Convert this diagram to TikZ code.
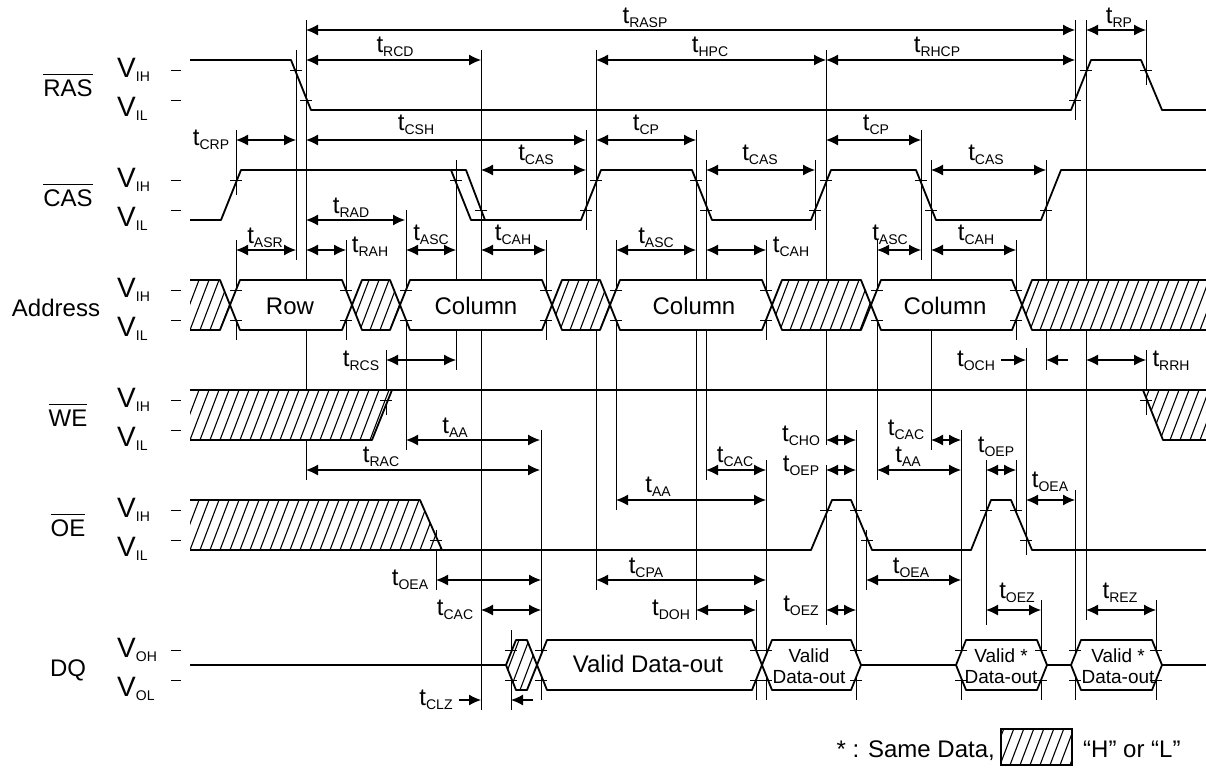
\documentclass[tikz,border=0pt]{standalone}
\usepackage{fontspec}
\setmainfont{Liberation Sans}
\usetikzlibrary{arrows.meta}

\newcommand\tsub[1]{t\raisebox{-4pt}{\fontsize{14}{14}\selectfont #1}}
\newcommand\vsub[1]{{\fontsize{28}{30}\selectfont V}\raisebox{-4pt}{\fontsize{14}{14}\selectfont #1}}
\newcommand\ovl[1]{\setbox0\hbox{#1}\rlap{\rule[21pt]{\wd0}{1.5pt}}\box0}

% hatched region: #1 closed path, #2 top y, #3 bottom y
\newcommand\hatchreg[3]{%
  \begin{scope}
    \fill[white] #1;
    \clip #1;
    \foreach \hx in {150,160,...,1220}
      \draw[hatchline] (\hx,#3) -- ++({0.38*(#3-#2)},{#2-#3});
  \end{scope}}

\tikzset{
  sig/.style={line width=1.8pt, line join=round},
  guide/.style={line width=0.9pt},
  tickm/.style={line width=0.9pt},
  hatchline/.style={line width=1.1pt},
  dim/.style={line width=1.2pt, <->},
  box/.style={sig, fill=white},
  >={Latex[length=12pt,width=11pt]},
  every node/.style={font=\fontsize{24}{28}\selectfont, inner sep=0pt}
}

\begin{document}
\begin{tikzpicture}[x=1pt,y=-1pt]
\useasboundingbox (0,0) rectangle (1206,769);

% row names, levels
\foreach \nm/\lx/\txt/\ya/\hs/\ls in {ras/68/{\ovl{RAS}}/70/IH/IL, cas/68/{\ovl{CAS}}/180/IH/IL,
  addr/56/Address/290/IH/IL, we/68/{\ovl{WE}}/400/IH/IL, oe/68/{\ovl{OE}}/510/IH/IL, dq/68/DQ/650/OH/OL}
{
  \node[anchor=base] (\nm) at (\lx,\ya+26) {\txt};
  \node[anchor=base west] (\nm-h) at (117,\ya+7) {\vsub{\hs}};
  \node[anchor=base west] (\nm-l) at (117,\ya+46) {\vsub{\ls}};
  \draw[tickm] (171,\ya) -- (181,\ya) (171,\ya+30) -- (181,\ya+30);
}

% reference lines
\foreach \x/\ya/\yb in {236/130/195, 236/240/340, 296/50/260, 306/20/480, 346/240/340,
  386/350/415, 406/210/450, 436/530/590, 456/160/370, 481/50/710, 511/630/710,
  541/430/700, 546/240/340, 586/130/230, 596/50/590, 616/240/510, 696/130/620,
  706/160/480, 756/600/700, 766/240/340, 766/460/700, 815/160/230, 826/50/445,
  826/465/625, 856/430/700, 866/530/590, 877/240/480, 921/130/260, 931/160/450,
  961/430/700, 986/460/625, 1016/240/340, 1016/460/515, 1026/348/555, 1041/600/700,
  1046/160/370, 1075/20/120, 1075/490/700, 1086/20/620, 1146/20/85, 1146/350/415,
  1156/600/700}
  \draw[guide] (\x,\ya) -- (\x,\yb);

% RAS, CAS
\draw[sig] (190,60) -- (291,60) -- (311,110) -- (1071,110) -- (1091,60) -- (1141,60)
  -- (1162,110) -- (1206,110);
\draw[sig] (190,220) -- (221,220) -- (241,170) -- (466,170) -- (485,220) -- (581,220)
  -- (601,170) -- (692,170) -- (712,220) -- (811,220) -- (831,170) -- (916,170)
  -- (936,220) -- (1041,220) -- (1061,170) -- (1206,170);
\draw[sig] (451,170) -- (471,220) -- (485,220);

% Address
\hatchreg{(190,280) -- (220,280) -- (230,305) -- (220,330) -- (190,330) -- cycle}{280}{330}
\hatchreg{(352,305) -- (362,280) -- (390,280) -- (400,305) -- (390,330) -- (362,330) -- cycle}{280}{330}
\hatchreg{(552,305) -- (562,280) -- (600,280) -- (610,305) -- (600,330) -- (562,330) -- cycle}{280}{330}
\hatchreg{(772,305) -- (782,280) -- (861,280) -- (871,305) -- (861,330) -- (782,330) -- cycle}{280}{330}
\hatchreg{(1022,305) -- (1032,280) -- (1206,280) -- (1206,330) -- (1032,330) -- cycle}{280}{330}
\draw[sig] (190,280) -- (220,280) -- (230,305) -- (220,330) -- (190,330);
\draw[sig] (1206,280) -- (1032,280) -- (1022,305) -- (1032,330) -- (1206,330);
\foreach \xa/\xb in {352/400, 552/610, 772/871}
  \draw[sig] (\xa,305) -- (\xa+10,280) -- (\xb-10,280) -- (\xb,305) -- (\xb-10,330) -- (\xa+10,330) -- cycle;
\draw[box] (230,305) -- (240,280) -- (342,280) -- (352,305) -- (342,330) -- (240,330) -- cycle;
\draw[box] (400,305) -- (410,280) -- (542,280) -- (552,305) -- (542,330) -- (410,330) -- cycle;
\draw[box] (610,305) -- (620,280) -- (762,280) -- (772,305) -- (762,330) -- (620,330) -- cycle;
\draw[box] (871,305) -- (881,280) -- (1012,280) -- (1022,305) -- (1012,330) -- (881,330) -- cycle;
\node[anchor=base] (row) at (290,314) {Row};
\node[anchor=base] (col1) at (476,314) {Column};
\node[anchor=base] (col2) at (694,314) {Column};
\node[anchor=base] (col3) at (945,314) {Column};

% WE
\hatchreg{(190,390) -- (392,390) -- (372,440) -- (190,440) -- cycle}{390}{440}
\hatchreg{(1143,390) -- (1206,390) -- (1206,440) -- (1163,440) -- cycle}{390}{440}
\draw[sig] (190,390) -- (1206,390);
\draw[sig] (190,440) -- (372,440) -- (392,390);
\draw[sig] (1143,390) -- (1163,440) -- (1206,440);

% OE
\hatchreg{(190,500) -- (420,500) -- (442,550) -- (190,550) -- cycle}{500}{550}
\draw[sig] (190,500) -- (420,500) -- (442,550);
\draw[sig] (190,550) -- (811,550) -- (832,500) -- (851,500) -- (872,550) -- (971,550)
  -- (991,500) -- (1011,500) -- (1032,550) -- (1206,550);

% DQ
\draw[sig] (190,665) -- (506,665) (861,665) -- (956,665) (1047,665) -- (1071,665) (1162,665) -- (1206,665);
\hatchreg{(506,665) -- (516,640) -- (527,640) -- (537,665) -- (527,690) -- (516,690) -- cycle}{640}{690}
\draw[sig] (506,665) -- (516,640) -- (527,640) -- (537,665) -- (527,690) -- (516,690) -- cycle;
\draw[box] (537,665) -- (547,640) -- (752,640) -- (762,665) -- (752,690) -- (547,690) -- cycle;
\draw[box] (762,665) -- (772,640) -- (851,640) -- (861,665) -- (851,690) -- (772,690) -- cycle;
\draw[box] (956,665) -- (966,640) -- (1037,640) -- (1047,665) -- (1037,690) -- (966,690) -- cycle;
\draw[box] (1071,665) -- (1081,640) -- (1152,640) -- (1162,665) -- (1152,690) -- (1081,690) -- cycle;
\node[anchor=base] (dout) at (648,672) {Valid Data-out};
\foreach \x/\s [count=\i] in {809/{}, 1001/{ *}, 1118/{ *}}
{
  \node[anchor=base, font=\fontsize{19}{21}\selectfont] (va\i) at (\x,662) {Valid\s};
  \node[anchor=base, font=\fontsize{19}{21}\selectfont] (vb\i) at (\x,683) {Data-out};
}

% crossing marks
\foreach \x/\y in {296/70, 306/100, 1075/100, 1086/70, 1146/70,
  236/180, 456/180, 481/210, 586/210, 596/180, 696/180, 706/210, 815/210, 826/180,
  921/180, 931/210, 1046/210, 386/400, 1146/400,
  436/540, 826/510, 856/510, 867/540, 986/510, 1016/510, 1026/540}
  \draw[tickm] (\x-6,\y) -- (\x+6,\y);
\foreach \x in {236,346,406,546,616,766,877,1016}
  \draw[tickm] (\x-6,290) -- (\x+6,290) (\x-6,320) -- (\x+6,320);
\foreach \x in {511,541,756,766,856,961,1041,1075,1156}
  \draw[tickm] (\x-6,650) -- (\x+6,650) (\x-6,680) -- (\x+6,680);

% timing arrows
\foreach \y/\xa/\xb in {30/306/1075, 30/1086/1146, 60/306/481, 60/596/826, 60/826/1075,
  140/236/296, 140/306/586, 140/596/696, 140/826/921,
  170/481/586, 170/706/815, 170/931/1046, 220/306/405,
  250/236/296, 250/306/346, 250/406/456, 250/481/546, 250/616/696, 250/706/766,
  250/877/921, 250/931/1016, 360/386/456, 360/1086/1146,
  440/406/540, 470/306/540, 440/826/856, 470/706/766, 470/826/856, 440/931/961,
  470/877/961, 500/616/766, 470/986/1016, 500/1026/1075,
  580/436/541, 580/596/766, 580/866/961, 610/481/541, 610/696/756, 610/826/856,
  610/986/1041, 610/1086/1156}
  \draw[dim] (\xa,\y) -- (\xb,\y);
\draw[line width=1.2pt, ->] (1001,360) -- (1026,360);
\draw[line width=1.2pt, ->] (1068,360) -- (1046,360);
\draw[line width=1.2pt, ->] (459,700) -- (481,700);
\draw[line width=1.2pt, ->] (533,700) -- (511,700);

% timing names
\foreach \x/\y/\s [count=\i] in {645/23/RASP, 395/52/RCD, 710/52/HPC, 937/52/RHCP, 1119/23/RP,
  211/145/CRP, 416/130/CSH, 646/130/CP, 876/130/CP, 536/160/CAS, 760/160/CAS, 986/160/CAS,
  351/213/RAD, 265/243/ASR, 370/252/RAH, 431/240/ASC, 513/240/CAH, 656/243/ASC,
  791/252/CAH, 890/240/ASC, 976/240/CAH, 361/366/RCS, 976/366/OCH, 1171/366/RRH,
  455/433/AA, 381/462/RAC, 801/441/CHO, 735/462/CAC, 801/471/OEP, 906/435/CAC,
  908/462/AA, 658/492/AA, 996/452/OEP, 1050/487/OEA, 410/585/OEA, 911/573/OEA,
  646/573/CPA, 455/615/CAC, 671/615/DOH, 801/611/OEZ, 1017/598/OEZ, 1120/598/REZ,
  436/705/CLZ}
  \node[anchor=base] (t\i) at (\x,\y) {\tsub{\s}};

% legend
\node[anchor=base east] (same) at (995,757) {* : Same Data,};
\hatchreg{(1001,729) rectangle (1072,765)}{729}{765}
\draw[line width=1.2pt] (1001,729) rectangle (1072,765);
\node[anchor=base west] (hl) at (1083,757) {“H” or “L”};
\end{tikzpicture}
\end{document}
